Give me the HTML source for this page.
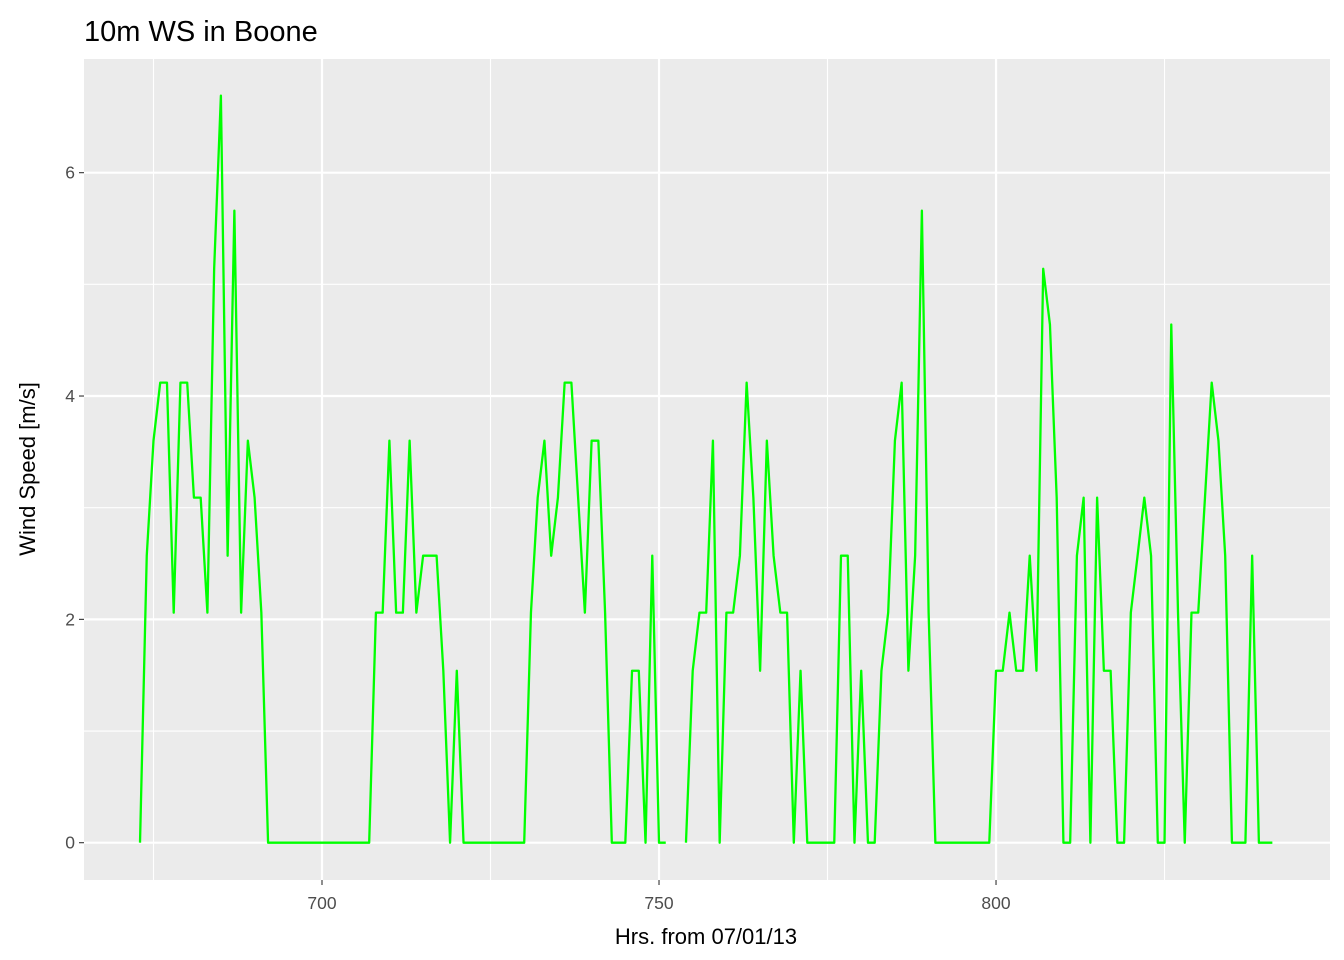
<!DOCTYPE html>
<html><head><meta charset="utf-8"><style>
html,body{margin:0;padding:0;background:#fff;}
svg{display:block;font-family:"Liberation Sans",Arial,sans-serif;}
</style></head><body>
<svg id="chart" width="1344" height="960">
<rect x="0" y="0" width="1344" height="960" fill="#fff"/>
<rect x="84" y="59" width="1246" height="821" fill="#ebebeb"/>
<g id="grid"></g>
<g id="axes"></g>
<g id="series"></g>
<text x="84" y="41" font-size="29" fill="#000">10m WS in Boone</text>
<text x="706" y="944" font-size="22" fill="#000" text-anchor="middle">Hrs. from 07/01/13</text>
<text transform="translate(35,469) rotate(-90)" font-size="22" fill="#000" text-anchor="middle">Wind Speed [m/s]</text>
</svg>
<script>
const startHour = 673;
const windSpeed = [
0,2.57,3.6,4.12,4.12,2.06,4.12,4.12,3.09,3.09,2.06,5.14,6.69,2.57,5.66,2.06,3.6,3.09,2.06,0,
0,0,0,0,0,0,0,0,0,0,0,0,0,0,
0,
2.06,2.06,3.6,2.06,2.06,3.6,2.06,2.57,2.57,2.57,
1.54,0,1.54,0,
0,0,0,0,0,0,0,0,0,
2.06,3.09,3.6,2.57,3.09,4.12,4.12,3.09,2.06,3.6,3.6,2.06,0,0,0,1.54,1.54,0,2.57,0,0,
null,null,
0,1.54,2.06,2.06,3.6,0,2.06,2.06,2.57,4.12,3.09,1.54,3.6,2.57,2.06,2.06,0,1.54,0,0,0,0,0,2.57,2.57,0,1.54,
0,0,1.54,2.06,3.6,4.12,1.54,2.57,5.66,2.06,0,0,0,0,0,0,0,0,0,1.54,1.54,2.06,1.54,
1.54,2.57,1.54,5.14,4.64,3.09,0,0,2.57,3.09,0,3.09,1.54,1.54,0,0,2.06,2.57,3.09,2.57,0,0,4.64,2.06,0,2.06,2.06,3.09,4.12,3.6,2.57,0,0,0,2.57,0,0,0
];
const xTicks = [700, 750, 800];
const xMinor = [675, 725, 775, 825];
const yTicks = [0, 2, 4, 6];
const yMinor = [1, 3, 5];

const NS = "http://www.w3.org/2000/svg";
const PL = 84, PR = 1330, PT = 59, PB = 880;
const xMin = 664.69, xMax = 849.55, yMin = -0.334, yMax = 7.018;
function xs(h){ return PL + (h - xMin) / (xMax - xMin) * (PR - PL); }
function ys(v){ return PB - (v - yMin) / (yMax - yMin) * (PB - PT); }
function mk(tag, attrs, parent){
  const el = document.createElementNS(NS, tag);
  for (const k in attrs) el.setAttribute(k, attrs[k]);
  parent.appendChild(el);
  return el;
}
const grid = document.getElementById('grid');
const axes = document.getElementById('axes');
const series = document.getElementById('series');

xMinor.forEach(v => {
  const l = mk('line', {x1: xs(v), x2: xs(v), y1: PT, y2: PB, stroke: '#fff', 'stroke-width': 1.1}, grid);
  
  
});
yMinor.forEach(v => {
  const l = mk('line', {x1: PL, x2: PR, y1: ys(v), y2: ys(v), stroke: '#fff', 'stroke-width': 1.1}, grid);
  
  
});
xTicks.forEach(v => {
  const l = mk('line', {x1: xs(v), x2: xs(v), y1: PT, y2: PB, stroke: '#fff', 'stroke-width': 2.2}, grid);
  
  
  const t = mk('line', {x1: xs(v), x2: xs(v), y1: PB, y2: PB + 5, stroke: '#333', 'stroke-width': 1.1}, axes);
  
  
  const tx = mk('text', {x: xs(v), y: PB + 29, 'font-size': 17.5, fill: '#4d4d4d', 'text-anchor': 'middle'}, axes);
  tx.textContent = v;
  
  
});
yTicks.forEach(v => {
  const l = mk('line', {x1: PL, x2: PR, y1: ys(v), y2: ys(v), stroke: '#fff', 'stroke-width': 2.2}, grid);
  
  
  const t = mk('line', {x1: PL - 5, x2: PL, y1: ys(v), y2: ys(v), stroke: '#333', 'stroke-width': 1.1}, axes);
  
  
  const tx = mk('text', {x: PL - 9, y: ys(v) + 6, 'font-size': 17.5, fill: '#4d4d4d', 'text-anchor': 'end'}, axes);
  tx.textContent = v;
  
  
});

let segs = [], cur = [];
windSpeed.forEach((v, i) => {
  if (v === null) { if (cur.length) segs.push(cur); cur = []; }
  else cur.push([xs(startHour + i), ys(v)]);
});
if (cur.length) segs.push(cur);
segs.forEach(s => {
  const d = s.map((p, i) => (i ? 'L' : 'M') + p[0].toFixed(2) + ',' + p[1].toFixed(2)).join('');
  const p = mk('path', {d: d, fill: 'none', stroke: '#00ff00', 'stroke-width': 2.3, 'stroke-linejoin': 'round'}, series);
  
  
});
</script>
</body></html>
